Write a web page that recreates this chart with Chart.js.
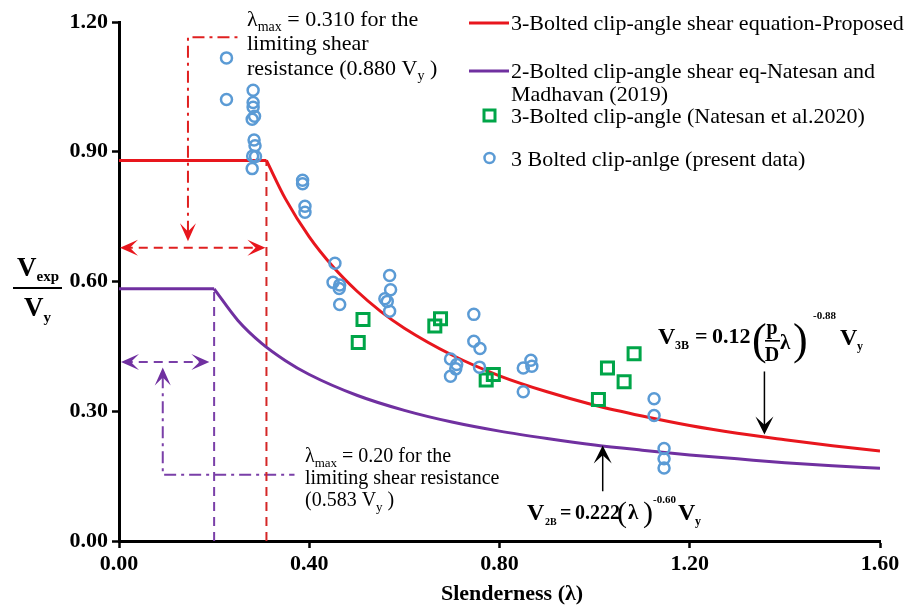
<!DOCTYPE html>
<html>
<head>
<meta charset="utf-8">
<script src="https://cdn.jsdelivr.net/npm/chart.js@4.4.0/dist/chart.umd.min.js"></script>
<style>
  html, body { margin: 0; padding: 0; background: #fff; }
  #wrap { width: 909px; height: 607px; }
</style>
</head>
<body>
<div id="wrap"><canvas id="myChart" width="909" height="607"></canvas></div>
<script>
// 3 bolted clip-angle tests (present data)
const presentX = [0.226, 0.226, 0.282, 0.282, 0.282, 0.285, 0.280, 0.284, 0.286, 0.281, 0.287, 0.280,
  0.386, 0.386, 0.391, 0.391, 0.454, 0.450, 0.464, 0.463, 0.464,
  0.569, 0.571, 0.559, 0.564, 0.569, 0.746, 0.746, 0.759, 0.697, 0.710, 0.708, 0.697, 0.758,
  0.850, 0.866, 0.868, 0.850, 1.125, 1.125, 1.146, 1.146, 1.146];
const presentY = [1.117, 1.021, 1.042, 1.014, 1.003, 0.982, 0.975, 0.927, 0.914, 0.890, 0.889, 0.861,
  0.834, 0.826, 0.774, 0.760, 0.642, 0.598, 0.592, 0.584, 0.547,
  0.614, 0.581, 0.560, 0.554, 0.531, 0.524, 0.462, 0.445, 0.421, 0.408, 0.398, 0.381, 0.402,
  0.400, 0.418, 0.404, 0.345, 0.329, 0.290, 0.214, 0.190, 0.169];

// 3-Bolted clip-angle (Natesan et al. 2020)
const natesanX = [0.503, 0.513, 0.664, 0.676, 0.772, 0.787, 1.008, 1.027, 1.062, 1.083];
const natesanY = [0.459, 0.512, 0.497, 0.514, 0.372, 0.385, 0.327, 0.400, 0.368, 0.433];

// proposed 3B equation, plateau then decay
const lambdaMax3B = 0.31;
const limit3B = 0.88;
const proposedX = [0.31, 0.35, 0.40, 0.45, 0.50, 0.55, 0.60, 0.70, 0.80, 0.90, 1.00, 1.10, 1.20, 1.30, 1.40, 1.50, 1.60];
const proposedY = [0.880, 0.791, 0.703, 0.634, 0.578, 0.531, 0.492, 0.430, 0.382, 0.345, 0.314, 0.289, 0.267, 0.249, 0.234, 0.220, 0.208];

// 2B equation (Natesan and Madhavan 2019)
const lambdaMax2B = 0.20;
const limit2B = 0.583;
const eq2019X = [0.20, 0.25, 0.30, 0.35, 0.40, 0.50, 0.60, 0.70, 0.80, 0.90, 1.00, 1.10, 1.20, 1.30, 1.40, 1.50, 1.60];
const eq2019Y = [0.583, 0.510, 0.457, 0.417, 0.385, 0.337, 0.302, 0.275, 0.254, 0.237, 0.222, 0.210, 0.199, 0.190, 0.181, 0.174, 0.168];

const xTicks = [0, 0.4, 0.8, 1.2, 1.6];
const yTicks = [0, 0.3, 0.6, 0.9, 1.2];

// guide lines for the two limiting values (data units)
const redGuide = { arrowY: 0.678, pointerX: 0.145, pointerTip: 0.693, top: 1.165, end: 0.253 };
const purpleGuide = { arrowY: 0.414, arrowEnd: 0.19, pointerX: 0.092, pointerTip: 0.401, bottom: 0.153, end: 0.369 };
const eqArrow3B = { x: 1.357, from: 0.392, to: 0.246 };
const eqArrow2B = { x: 1.017, from: 0.115, to: 0.221 };

const RED = '#e8161d';
const PURPLE = '#7030a0';
const GREEN = '#00a548';
const BLUE = '#5b9bd5';
const SERIF = '"Liberation Serif", "Times New Roman", serif';

const pts = (xs, ys) => xs.map((x, i) => ({ x: x, y: ys[i] }));

function guideLine(data, color, dash) {
  return {
    type: 'scatter', data: data, showLine: true, borderColor: color, borderWidth: 2,
    borderDash: dash, pointRadius: 0, tension: 0, order: 5, clip: false
  };
}

const DASH = [9, 6];
const DASHDOT = [12, 5, 3, 5];

function arrowHead(ctx, x, y, angle, len, halfW, color) {
  ctx.save();
  ctx.translate(x, y);
  ctx.rotate(angle);
  ctx.beginPath();
  ctx.moveTo(0, 0);
  ctx.lineTo(-len, -halfW);
  ctx.lineTo(-len * 0.55, 0);
  ctx.lineTo(-len, halfW);
  ctx.closePath();
  ctx.fillStyle = color;
  ctx.fill();
  ctx.restore();
}

function runs(ctx, x, y, parts) {
  let cx = x;
  parts.forEach(([t, f, dy]) => {
    ctx.font = f;
    ctx.fillText(t, cx, y + (dy || 0));
    cx += ctx.measureText(t).width;
  });
  return cx;
}

// each piece placed at its own x: [text, font, x, baseline]
function pieces(ctx, list) {
  list.forEach(([t, f, x, yb]) => {
    ctx.font = f;
    ctx.fillText(t, x, yb);
  });
}

const extras = {
  id: 'extras',
  afterDatasetsDraw(chart) {
    const { ctx, scales: { x, y } } = chart;
    const px = v => x.getPixelForValue(v);
    const py = v => y.getPixelForValue(v);
    ctx.save();
    ctx.textBaseline = 'alphabetic';
    ctx.textAlign = 'left';

    // arrowheads on the guide lines
    arrowHead(ctx, px(0) + 1, py(redGuide.arrowY), Math.PI, 18, 8, RED);
    arrowHead(ctx, px(lambdaMax3B) - 1, py(redGuide.arrowY), 0, 18, 8, RED);
    arrowHead(ctx, px(redGuide.pointerX), py(redGuide.pointerTip), Math.PI / 2, 18, 8, RED);
    arrowHead(ctx, px(0) + 2, py(purpleGuide.arrowY), Math.PI, 18, 8, PURPLE);
    arrowHead(ctx, px(purpleGuide.arrowEnd), py(purpleGuide.arrowY), 0, 18, 8, PURPLE);
    arrowHead(ctx, px(purpleGuide.pointerX), py(purpleGuide.pointerTip), -Math.PI / 2, 18, 8, PURPLE);

    // equation pointers
    ctx.strokeStyle = '#000';
    ctx.lineWidth = 1.5;
    [eqArrow3B, eqArrow2B].forEach(a => {
      const tip = py(a.to), tail = py(a.from);
      const dir = tip > tail ? 1 : -1;
      ctx.beginPath();
      ctx.moveTo(px(a.x), tail);
      ctx.lineTo(px(a.x), tip - dir * 8);
      ctx.stroke();
      arrowHead(ctx, px(a.x), tip, dir * Math.PI / 2, 18, 9, '#000');
    });

    // limiting value notes
    ctx.fillStyle = '#000';
    const f22 = '22px ' + SERIF, s14 = '14px ' + SERIF;
    runs(ctx, 247, 26, [['λ', f22], ['max', s14, 5], [' = 0.310 for the', f22]]);
    runs(ctx, 247, 50, [['limiting shear', f22]]);
    runs(ctx, 247, 75, [['resistance (0.880 V', f22], ['y', s14, 5], [' )', f22]]);
    const f20 = '20px ' + SERIF, s13 = '13px ' + SERIF;
    runs(ctx, 305, 462, [['λ', f20], ['max', s13, 5], [' = 0.20 for the', f20]]);
    runs(ctx, 305, 484, [['limiting shear resistance', f20]]);
    runs(ctx, 305, 506, [['(0.583 V', f20], ['y', s13, 5], [' )', f20]]);

    // V3B equation
    const bV = 'bold 24px ' + SERIF, bN = 'bold 20px ' + SERIF, bN22 = 'bold 22px ' + SERIF;
    const b13 = 'bold 12px ' + SERIF, b12 = 'bold 11px ' + SERIF;
    pieces(ctx, [
      ['V', bV, 658, 344], ['3B', b13, 675, 349], ['=', bN22, 695, 343], ['0.12', bN22, 712, 343],
      ['(', '44px ' + SERIF, 752, 354], ['λ', 'bold 21px ' + SERIF, 780, 349], [')', '44px ' + SERIF, 793, 354],
      ['-0.88', b12, 813, 319], ['V', bV, 840, 345], ['y', b13, 857, 350]
    ]);
    ctx.font = 'bold 20px ' + SERIF;
    ctx.textAlign = 'center';
    ctx.fillText('p', 772, 334);
    ctx.fillText('D', 772, 361);
    ctx.fillRect(765, 340, 15, 1.6);
    ctx.textAlign = 'left';

    // V2B equation
    pieces(ctx, [
      ['V', bV, 527, 520], ['2B', 'bold 10px ' + SERIF, 545, 525], ['=', bN, 560, 519], ['0.222', bN, 575, 519],
      ['(', '30px ' + SERIF, 617, 522], ['λ', 'bold 21px ' + SERIF, 628, 519], [')', '30px ' + SERIF, 643, 522],
      ['-0.60', b12, 653, 503], ['V', bV, 678, 520], ['y', b13, 695, 525]
    ]);

    // axis titles
    ctx.textAlign = 'center';
    ctx.font = 'bold 22px ' + SERIF;
    ctx.fillText('Slenderness (λ)', 512, 600);
    ctx.textAlign = 'left';
    runs(ctx, 17, 276, [['V', 'bold 27px ' + SERIF], ['exp', 'bold 15px ' + SERIF, 5]]);
    ctx.fillRect(13, 287, 49, 2);
    runs(ctx, 24, 316, [['V', 'bold 27px ' + SERIF], ['y', 'bold 15px ' + SERIF, 6]]);

    // legend
    ctx.lineWidth = 3;
    ctx.setLineDash([]);
    [[RED, 23], [PURPLE, 71]].forEach(([c, ly]) => {
      ctx.strokeStyle = c;
      ctx.beginPath();
      ctx.moveTo(469, ly);
      ctx.lineTo(509, ly);
      ctx.stroke();
    });
    ctx.strokeStyle = GREEN;
    ctx.strokeRect(484, 110, 11, 11);
    ctx.strokeStyle = BLUE;
    ctx.lineWidth = 2.5;
    ctx.beginPath();
    ctx.arc(489.5, 158, 5, 0, Math.PI * 2);
    ctx.stroke();
    ctx.fillStyle = '#000';
    ctx.font = '22px ' + SERIF;
    ctx.fillText('3-Bolted clip-angle shear equation-Proposed', 511, 30);
    ctx.fillText('2-Bolted clip-angle shear eq-Natesan and', 511, 78);
    ctx.fillText('Madhavan (2019)', 511, 101);
    ctx.fillText('3-Bolted clip-angle (Natesan et al.2020)', 511, 123);
    ctx.fillText('3 Bolted clip-anlge (present data)', 511, 166);
    ctx.restore();
  }
};

const tickFont = { family: SERIF, size: 22, weight: 'bold' };

new Chart(document.getElementById('myChart'), {
  type: 'scatter',
  data: {
    datasets: [
      {
        label: '3 Bolted clip-anlge (present data)', data: pts(presentX, presentY),
        pointStyle: 'circle', pointRadius: 5.5, borderWidth: 2.5, borderColor: BLUE,
        backgroundColor: 'rgba(0,0,0,0)', order: 0, clip: false
      },
      {
        label: '3-Bolted clip-angle (Natesan et al.2020)', data: pts(natesanX, natesanY),
        pointStyle: 'rect', pointRadius: 8.5, borderWidth: 3, borderColor: GREEN,
        backgroundColor: 'rgba(0,0,0,0)', order: 0, clip: false
      },
      {
        label: '3-Bolted clip-angle shear equation-Proposed', data: pts(proposedX, proposedY),
        showLine: true, borderColor: RED, borderWidth: 3, pointRadius: 0,
        cubicInterpolationMode: 'monotone', order: 2
      },
      {
        label: 'plateau 3B', data: [{ x: 0, y: limit3B }, { x: lambdaMax3B, y: limit3B }],
        showLine: true, borderColor: RED, borderWidth: 3, pointRadius: 0, order: 2
      },
      {
        label: '2-Bolted clip-angle shear eq-Natesan and Madhavan (2019)', data: pts(eq2019X, eq2019Y),
        showLine: true, borderColor: PURPLE, borderWidth: 3, pointRadius: 0,
        cubicInterpolationMode: 'monotone', order: 2
      },
      {
        label: 'plateau 2B', data: [{ x: 0, y: limit2B }, { x: lambdaMax2B, y: limit2B }],
        showLine: true, borderColor: PURPLE, borderWidth: 3, pointRadius: 0, order: 2
      },
      guideLine([{ x: lambdaMax3B, y: 0 }, { x: lambdaMax3B, y: limit3B }], '#d42626', DASH),
      guideLine([{ x: 0.01, y: redGuide.arrowY }, { x: lambdaMax3B - 0.01, y: redGuide.arrowY }], '#e02020', DASH),
      guideLine([{ x: redGuide.pointerX, y: redGuide.pointerTip + 0.02 }, { x: redGuide.pointerX, y: redGuide.top },
        { x: redGuide.end, y: redGuide.top }], '#e02020', DASHDOT),
      guideLine([{ x: lambdaMax2B, y: 0 }, { x: lambdaMax2B, y: limit2B }], '#7a3fa8', DASH),
      guideLine([{ x: 0.01, y: purpleGuide.arrowY }, { x: purpleGuide.arrowEnd - 0.01, y: purpleGuide.arrowY }], '#7a3fa8', DASH),
      guideLine([{ x: purpleGuide.pointerX, y: purpleGuide.pointerTip - 0.02 }, { x: purpleGuide.pointerX, y: purpleGuide.bottom },
        { x: purpleGuide.end, y: purpleGuide.bottom }], '#7a3fa8', DASHDOT)
    ]
  },
  options: {
    responsive: false,
    animation: false,
    devicePixelRatio: 1,
    layout: { padding: { left: 0, right: 29, top: 22, bottom: 0 } },
    plugins: { legend: { display: false }, tooltip: { enabled: false } },
    scales: {
      x: {
        type: 'linear', min: 0, max: 1.6,
        afterBuildTicks: s => { s.ticks = xTicks.map(v => ({ value: v })); },
        afterFit: s => { s.height = 66; },
        grid: { drawOnChartArea: false, drawTicks: true, tickLength: 7, tickWidth: 2.5, tickColor: '#000' },
        border: { display: true, color: '#000', width: 3 },
        ticks: { color: '#000', font: tickFont, padding: 3, maxRotation: 0, autoSkip: false, callback: v => v.toFixed(2) }
      },
      y: {
        type: 'linear', min: 0, max: 1.2,
        afterBuildTicks: s => { s.ticks = yTicks.map(v => ({ value: v })); },
        afterFit: s => { s.width = 119; },
        grid: { drawOnChartArea: false, drawTicks: true, tickLength: 7, tickWidth: 2.5, tickColor: '#000' },
        border: { display: true, color: '#000', width: 3 },
        ticks: { color: '#000', font: tickFont, padding: 4, autoSkip: false, callback: v => v.toFixed(2) }
      }
    }
  },
  plugins: [extras]
});
</script>
</body>
</html>
